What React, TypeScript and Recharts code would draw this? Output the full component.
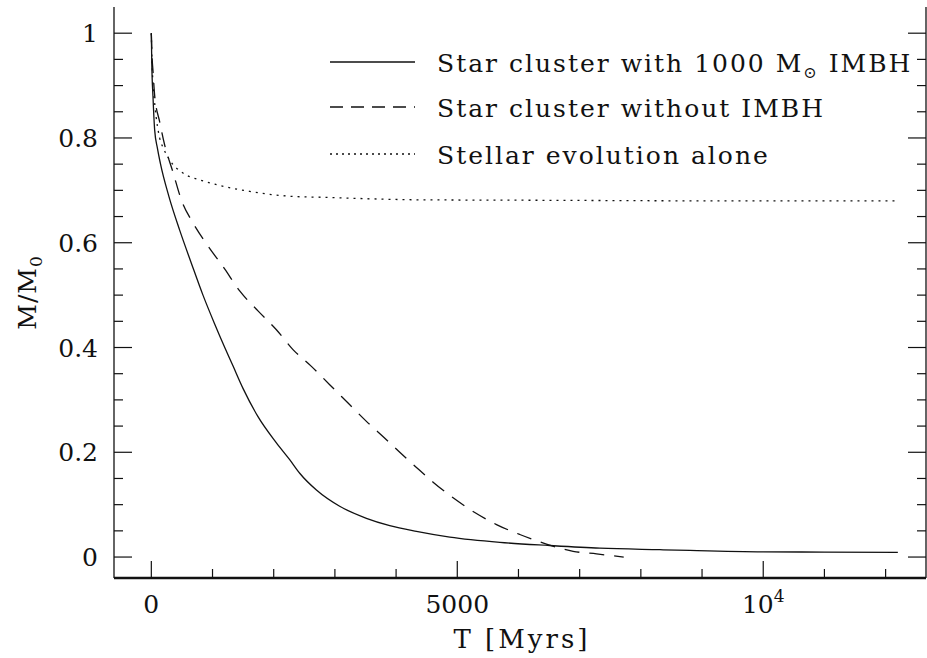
import React from 'react';
import { LineChart, Line, XAxis, YAxis, Legend } from 'recharts';

// Star cluster with 1000 Msun IMBH
const imbhT = [0, 8, 27, 54, 100, 147, 288, 463, 654, 844, 1035, 1200, 1334, 1498, 1743, 2044, 2261, 2425, 2698, 3078, 3515, 3896, 4333, 4878, 5696, 6513, 7330, 8311, 8802, 10000, 11000, 12200];
const imbhM = [1.0, 0.94, 0.879, 0.816, 0.78, 0.752, 0.688, 0.624, 0.561, 0.5, 0.445, 0.4, 0.365, 0.322, 0.268, 0.218, 0.186, 0.16, 0.128, 0.097, 0.074, 0.06, 0.049, 0.038, 0.028, 0.022, 0.017, 0.014, 0.0126, 0.01, 0.0095, 0.0088];

// Star cluster without IMBH
const noImbhT = [0, 10, 26, 54, 136, 217, 353, 490, 680, 925, 1198, 1444, 1743, 2044, 2315, 2616, 2915, 3215, 3515, 3842, 4060, 4333, 4605, 4932, 5286, 5641, 6022, 6349, 6676, 6893, 7276, 7720];
const noImbhM = [1.0, 0.96, 0.93, 0.882, 0.831, 0.787, 0.735, 0.682, 0.638, 0.594, 0.55, 0.508, 0.47, 0.434, 0.396, 0.364, 0.329, 0.294, 0.259, 0.224, 0.2, 0.171, 0.143, 0.113, 0.085, 0.062, 0.043, 0.029, 0.017, 0.011, 0.006, 0.0];

// Stellar evolution alone
const stevT = [0, 10, 30, 60, 136, 200, 299, 517, 790, 1063, 1607, 2371, 2698, 4333, 6513, 9000, 12200];
const stevM = [1.0, 0.95, 0.9, 0.86, 0.8, 0.78, 0.758, 0.733, 0.72, 0.711, 0.698, 0.688, 0.687, 0.682, 0.681, 0.68, 0.68];

const legendLabels = ['Star cluster with 1000 M', 'Star cluster without IMBH', 'Stellar evolution alone'];

const xTicks = [0, 1000, 2000, 3000, 4000, 5000, 6000, 7000, 8000, 9000, 10000, 11000, 12000];
const xLabelValues = [0, 5000, 10000];
const yTicks = [0, 0.05, 0.1, 0.15, 0.2, 0.25, 0.3, 0.35, 0.4, 0.45, 0.5, 0.55, 0.6, 0.65, 0.7, 0.75, 0.8, 0.85, 0.9, 0.95, 1.0];
const yLabelValues = [0, 0.2, 0.4, 0.6, 0.8, 1];
const yLabelTexts = ['0', '0.2', '0.4', '0.6', '0.8', '1'];

const X_DOMAIN = [-610, 12660];
const Y_DOMAIN = [-0.04, 1.05];

const toRows = (t: number[], m: number[]) => t.map((v, i) => ({ t: v, m: m[i] }));
const imbhData = toRows(imbhT, imbhM);
const noImbhData = toRows(noImbhT, noImbhM);
const stevData = toRows(stevT, stevM);

const FONT = 'DejaVu Serif';
const INK = '#111';

const isMajorX = (v: number) => v % 5000 === 0;
const isMajorY = (v: number) => Math.abs(v * 5 - Math.round(v * 5)) < 1e-6;

const BottomTick = (props: any) => {
  const { x, y, payload } = props;
  const v = payload.value;
  const major = isMajorX(v);
  const idx = xLabelValues.indexOf(v);
  return (
    <g>
      <line x1={x} y1={y} x2={x} y2={y - (major ? 17 : 9)} stroke={INK} strokeWidth={1.2} />
      {idx >= 0 && (
        <text x={x} y={y + 35} textAnchor="middle" fontFamily={FONT} fontSize={25} fill={INK}>
          {v === 10000 ? (
            <>
              10<tspan dy={-11} fontSize={17}>4</tspan>
            </>
          ) : (
            String(v)
          )}
        </text>
      )}
    </g>
  );
};

const TopTick = (props: any) => {
  const { x, y, payload } = props;
  const major = isMajorX(payload.value);
  return <line x1={x} y1={y} x2={x} y2={y + (major ? 17 : 9)} stroke={INK} strokeWidth={1.2} />;
};

const LeftTick = (props: any) => {
  const { x, y, payload } = props;
  const v = payload.value;
  const major = isMajorY(v);
  const idx = yLabelValues.findIndex((u) => Math.abs(u - v) < 1e-6);
  return (
    <g>
      <line x1={x} y1={y} x2={x + (major ? 18 : 9)} y2={y} stroke={INK} strokeWidth={1.2} />
      {idx >= 0 && (
        <text x={x - 16} y={y + 9} textAnchor="end" fontFamily={FONT} fontSize={25} fill={INK}>
          {yLabelTexts[idx]}
        </text>
      )}
    </g>
  );
};

const RightTick = (props: any) => {
  const { x, y, payload } = props;
  const major = isMajorY(payload.value);
  return <line x1={x} y1={y} x2={x - (major ? 18 : 9)} y2={y} stroke={INK} strokeWidth={1.2} />;
};

const LegendBox = () => {
  const rows = [
    { y: 62, dash: undefined as string | undefined },
    { y: 107, dash: '13 8' },
    { y: 154, dash: '2 4' },
  ];
  return (
    <svg width={927} height={200} style={{ display: 'block' }}>
      {rows.map((r, i) => (
        <g key={i}>
          <line x1={330} x2={415} y1={r.y} y2={r.y} stroke={INK} strokeWidth={1.3} strokeDasharray={r.dash} />
          <text x={437} y={r.y + 10} fontFamily={FONT} fontSize={25} fill={INK} letterSpacing={2}>
            {i === 0 ? (
              <>
                {legendLabels[0]}
                <tspan dy={6} fontSize={16}>⊙</tspan>
                <tspan dy={-6}> IMBH</tspan>
              </>
            ) : (
              legendLabels[i]
            )}
          </text>
        </g>
      ))}
    </svg>
  );
};

const XLabel = (props: any) => {
  const vb = props.viewBox || {};
  const cx = vb.x + vb.width / 2;
  return (
    <text x={cx + 2} y={648} textAnchor="middle" fontFamily={FONT} fontSize={26} fill={INK} letterSpacing={3}>
      T [Myrs]
    </text>
  );
};

const YLabel = (props: any) => {
  const vb = props.viewBox || {};
  const cy = vb.y + vb.height / 2;
  const cx = 36;
  return (
    <text x={cx} y={cy} transform={`rotate(-90 ${cx} ${cy})`} textAnchor="middle" fontFamily={FONT} fontSize={25} fill={INK} letterSpacing={1}>
      M/M<tspan dy={6} fontSize={17}>0</tspan>
    </text>
  );
};

export default function App() {
  return (
    <div style={{ position: 'absolute', left: 0, top: 0, width: 927, height: 658, background: '#fff' }}>
      <LineChart width={927} height={658} margin={{ top: 7, right: 0, bottom: 0, left: 0 }}>
        <XAxis
          xAxisId="bottom"
          dataKey="t"
          type="number"
          domain={X_DOMAIN}
          allowDataOverflow
          ticks={xTicks}
          interval={0}
          height={80}
          tickSize={0}
          tickMargin={0}
          tickLine={false}
          tick={<BottomTick />}
          axisLine={{ stroke: INK, strokeWidth: 2.6 }}
          label={{ content: <XLabel /> }}
        />
        <XAxis
          xAxisId="top"
          orientation="top"
          dataKey="t"
          type="number"
          domain={X_DOMAIN}
          allowDataOverflow
          ticks={xTicks}
          interval={0}
          height={0}
          tickSize={0}
          tickMargin={0}
          tickLine={false}
          tick={<TopTick />}
          axisLine={{ stroke: INK, strokeWidth: 1.3 }}
        />
        <YAxis
          yAxisId="left"
          dataKey="m"
          type="number"
          domain={Y_DOMAIN}
          allowDataOverflow
          ticks={yTicks}
          interval={0}
          width={114}
          tickSize={0}
          tickMargin={0}
          tickLine={false}
          tick={<LeftTick />}
          axisLine={{ stroke: INK, strokeWidth: 1.3 }}
          label={{ content: <YLabel /> }}
        />
        <YAxis
          yAxisId="right"
          orientation="right"
          dataKey="m"
          type="number"
          domain={Y_DOMAIN}
          allowDataOverflow
          ticks={yTicks}
          interval={0}
          width={1}
          tickSize={0}
          tickMargin={0}
          tickLine={false}
          tick={<RightTick />}
          axisLine={{ stroke: INK, strokeWidth: 1.3 }}
        />
        <Legend
          layout="vertical"
          align="center"
          verticalAlign="middle"
          content={<LegendBox />}
          wrapperStyle={{ position: 'absolute', left: 0, top: 0, width: 927, height: 200 }}
        />
        <Line
          xAxisId="bottom"
          yAxisId="left"
          data={stevData}
          dataKey="m"
          type="monotone"
          stroke={INK}
          strokeWidth={1.3}
          strokeDasharray="2 5"
          dot={false}
          isAnimationActive={false}
        />
        <Line
          xAxisId="bottom"
          yAxisId="left"
          data={noImbhData}
          dataKey="m"
          type="monotone"
          stroke={INK}
          strokeWidth={1.3}
          strokeDasharray="15 10"
          dot={false}
          isAnimationActive={false}
        />
        <Line
          xAxisId="bottom"
          yAxisId="left"
          data={imbhData}
          dataKey="m"
          type="monotone"
          stroke={INK}
          strokeWidth={1.3}
          dot={false}
          isAnimationActive={false}
        />
        <Line
          xAxisId="top"
          yAxisId="right"
          data={imbhData}
          dataKey="m"
          stroke="none"
          strokeWidth={0}
          dot={false}
          legendType="none"
          isAnimationActive={false}
        />
      </LineChart>
    </div>
  );
}
